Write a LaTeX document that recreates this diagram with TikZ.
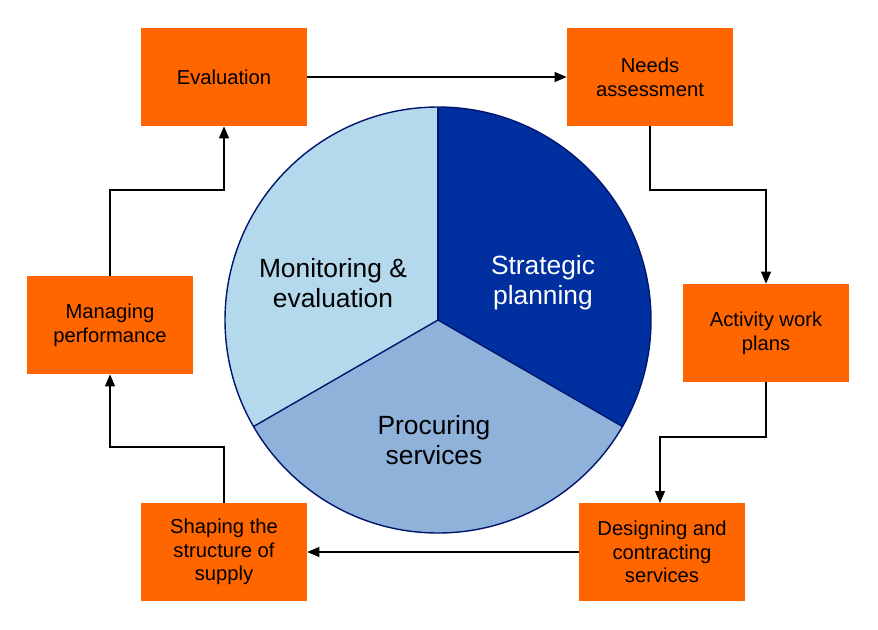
\documentclass[tikz,border=0pt]{standalone}
\usepackage{fontspec}
\setmainfont{Liberation Sans}
\usetikzlibrary{arrows.meta, calc}
\definecolor{boxorange}{HTML}{FF6600}
\definecolor{darkblue}{HTML}{0030A0}
\definecolor{midblue}{HTML}{8FB2DA}
\definecolor{lightblue}{HTML}{B4D8EC}
\definecolor{rimblue}{HTML}{00166E}
\tikzset{
  stage/.style={rectangle, fill=boxorange, minimum width=3.32cm, minimum height=1.96cm, align=center, font=\fontsize{11.5}{13.5}\selectfont},
  flow/.style={-{Triangle[length=2.4mm, width=2mm]}, line width=0.6pt},
  part/.style={align=center, font=\fontsize{15}{17}\selectfont}
}
\begin{document}
\begin{tikzpicture}[x=0.02cm, y=-0.02cm]
  \useasboundingbox (0,0) rectangle (878,629);

  % the wheel
  \coordinate (c) at (438,320);
  \fill[darkblue] (c) -- ($(c)+(-90:213)$) arc[start angle=-90, end angle=30, radius=213] -- cycle;
  \fill[midblue] (c) -- ($(c)+(30:213)$) arc[start angle=30, end angle=150, radius=213] -- cycle;
  \fill[lightblue] (c) -- ($(c)+(150:213)$) arc[start angle=150, end angle=270, radius=213] -- cycle;
  \draw[rimblue, line width=0.8pt] (c) circle[radius=213];
  \draw[rimblue, line width=0.8pt] (c) -- ($(c)+(-90:213)$);
  \draw[rimblue, line width=0.8pt] (c) -- ($(c)+(30:213)$);
  \draw[rimblue, line width=0.8pt] (c) -- ($(c)+(150:213)$);

  \node[part] (m) at (333,283) {Monitoring \&\\evaluation};
  \node[part, text=white] (s) at (543,283) {Strategic\\planning};
  \node[part] (p) at (434,440) {Procuring\\services};

  % the stages
  \node[stage] (1) at (224,77) {Evaluation};
  \node[stage] (2) at (650,77) {Needs\\assessment};
  \node[stage] (3) at (766,333) {Activity work\\plans};
  \node[stage] (4) at (662,552) {Designing and\\contracting\\services};
  \node[stage] (5) at (224,552) {Shaping the\\structure of\\supply};
  \node[stage] (6) at (110,325) {Managing\\performance};

  \draw[flow] (1) -- (2);
  \draw[flow] (2.south) |- (766,190) -- (3.north);
  \draw[flow] (3.south) |- (660,437) -- (660,503);
  \draw[flow] (4) -- (5);
  \draw[flow] (5.north) |- (110,447) -- (6.south);
  \draw[flow] (6.north) |- (224,190) -- (1.south);
\end{tikzpicture}
\end{document}
